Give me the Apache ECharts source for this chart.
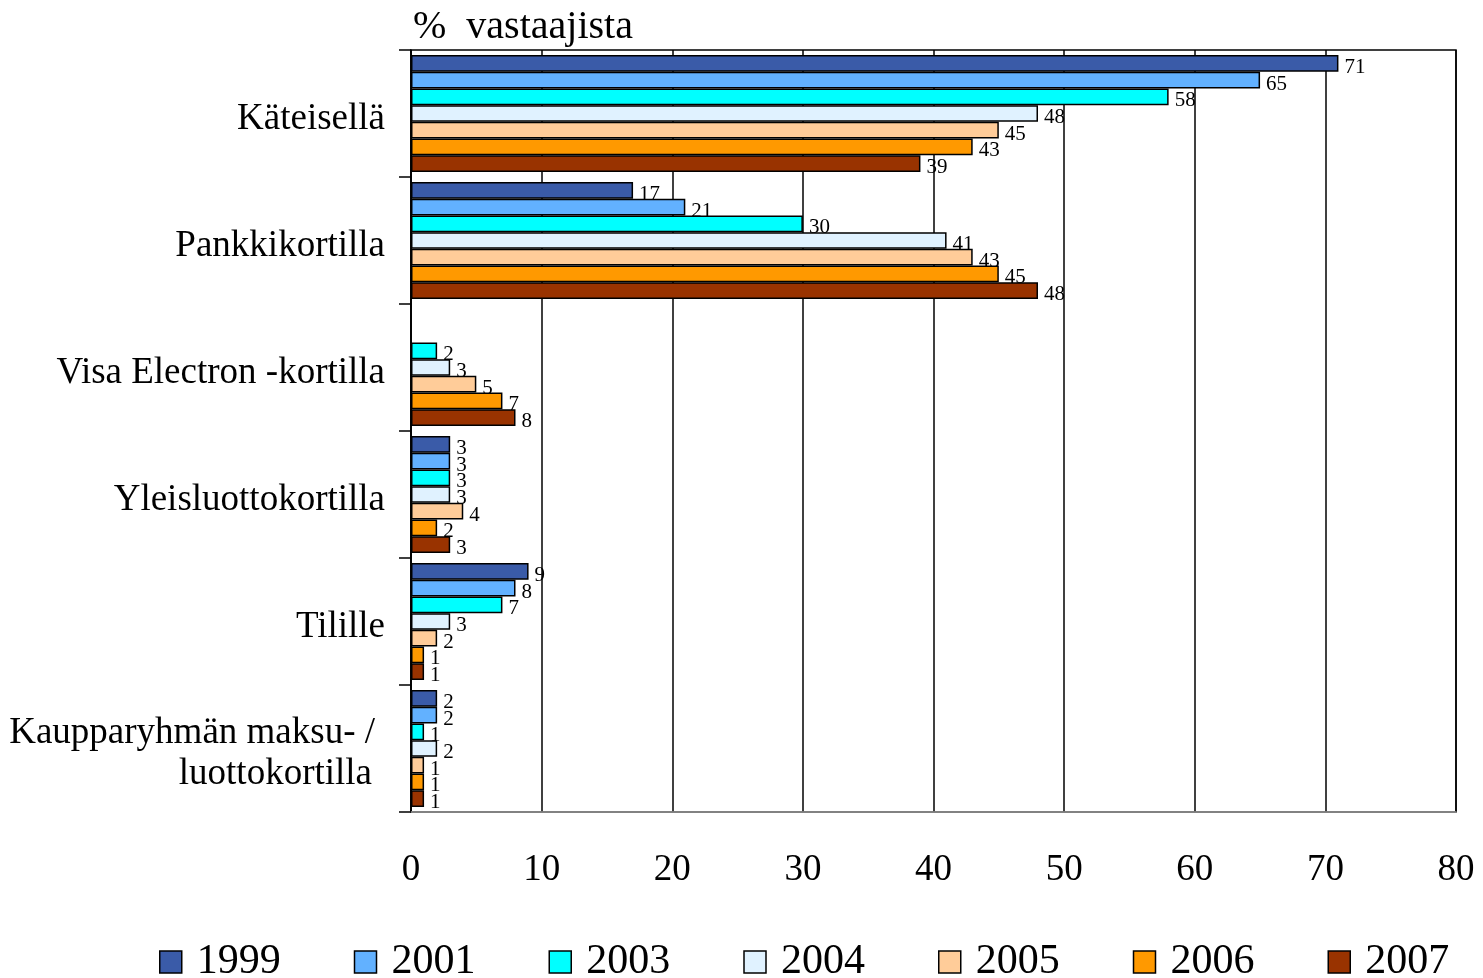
<!DOCTYPE html>
<html>
<head>
<meta charset="utf-8">
<title>Maksutavat</title>
<script src="https://cdn.jsdelivr.net/npm/echarts@6/dist/echarts.min.js"></script>
<style>
  html, body { margin: 0; padding: 0; background: #fff; }
  #chart { width: 1483px; height: 978px; }
</style>
</head>
<body>
<div id="chart"></div>
<script>
var categories = [
  'Käteisellä',
  'Pankkikortilla',
  'Visa Electron -kortilla',
  'Yleisluottokortilla',
  'Tilille',
  'Kaupparyhmän maksu- /\nluottokortilla'
]
var years = ['1999', '2001', '2003', '2004', '2005', '2006', '2007']
var colors = ['#3A5BA8', '#62B1FF', '#00FFFF', '#E0F2FF', '#FFCC99', '#FF9900', '#993300']

var v1999 = [71, 17, null, 3, 9, 2]
var v2001 = [65, 21, null, 3, 8, 2]
var v2003 = [58, 30, 2, 3, 7, 1]
var v2004 = [48, 41, 3, 3, 3, 2]
var v2005 = [45, 43, 5, 4, 2, 1]
var v2006 = [43, 45, 7, 2, 1, 1]
var v2007 = [39, 48, 8, 3, 1, 1]
var values = [v1999, v2001, v2003, v2004, v2005, v2006, v2007]

var xTicks = { min: 0, max: 80, interval: 10 }
var serif = '"Liberation Serif", "DejaVu Serif", serif'

var chart = echarts.init(document.getElementById('chart'))

chart.setOption({
  animation: false,
  title: {
    text: '%  vastaajista',
    left: 408,
    top: 2,
    textStyle: { fontFamily: serif, fontSize: 40, fontWeight: 'normal', color: '#000' }
  },
  legend: {
    bottom: -10,
    left: 154,
    icon: 'rect',
    itemWidth: 22,
    itemHeight: 22,
    itemGap: 73,
    data: years,
    textStyle: { fontFamily: serif, fontSize: 42, color: '#000', padding: [0, 0, 0, 10] },
    itemStyle: { borderColor: '#000', borderWidth: 1.5 }
  },
  grid: {
    left: 411,
    right: 27,
    top: 50,
    bottom: 166,
    show: true,
    borderColor: '#000',
    borderWidth: 1.5
  },
  xAxis: {
    type: 'value',
    min: xTicks.min,
    max: xTicks.max,
    interval: xTicks.interval,
    axisLine: { show: true, lineStyle: { color: '#999', width: 1.5 } },
    axisTick: { show: false },
    axisLabel: { fontFamily: serif, fontSize: 37, color: '#000', margin: 40 },
    splitLine: { show: true, lineStyle: { color: '#000', width: 1.5 } }
  },
  yAxis: {
    type: 'category',
    inverse: true,
    data: categories,
    axisLine: { show: true, lineStyle: { color: '#000', width: 1.5 } },
    axisTick: { show: true, length: 12, lineStyle: { color: '#000', width: 1.5 } },
    axisLabel: {
      fontFamily: serif, fontSize: 37, color: '#000', margin: 26, align: 'right',
      // first line gets some top padding so the text sits a bit lower, like the original
      formatter: function (v) {
        var lines = v.split('\n')
        if (lines.length === 1) return '{a|' + v + '}'
        return '{c|' + lines[0] + '}\n{b|' + lines[1] + '}'
      },
      rich: {
        a: { fontFamily: serif, fontSize: 37, lineHeight: 43, padding: [12, 0, 0, 0] },
        c: { fontFamily: serif, fontSize: 37, lineHeight: 43, padding: [12, 10, 0, 0] },
        b: { fontFamily: serif, fontSize: 37, lineHeight: 43, padding: [9, 13, 0, 0] }
      }
    }
  },
  series: years.map(function (y, i) {
    return {
      name: y,
      type: 'bar',
      data: values[i],
      barGap: '0%',
      barCategoryGap: '8%',
      itemStyle: { color: colors[i], borderColor: '#000', borderWidth: 1.5 },
      label: {
        show: true,
        position: 'right',
        distance: 6,
        offset: [0, 4],
        fontFamily: serif,
        fontSize: 21,
        color: '#000'
      }
    }
  })
})
</script>
</body>
</html>
